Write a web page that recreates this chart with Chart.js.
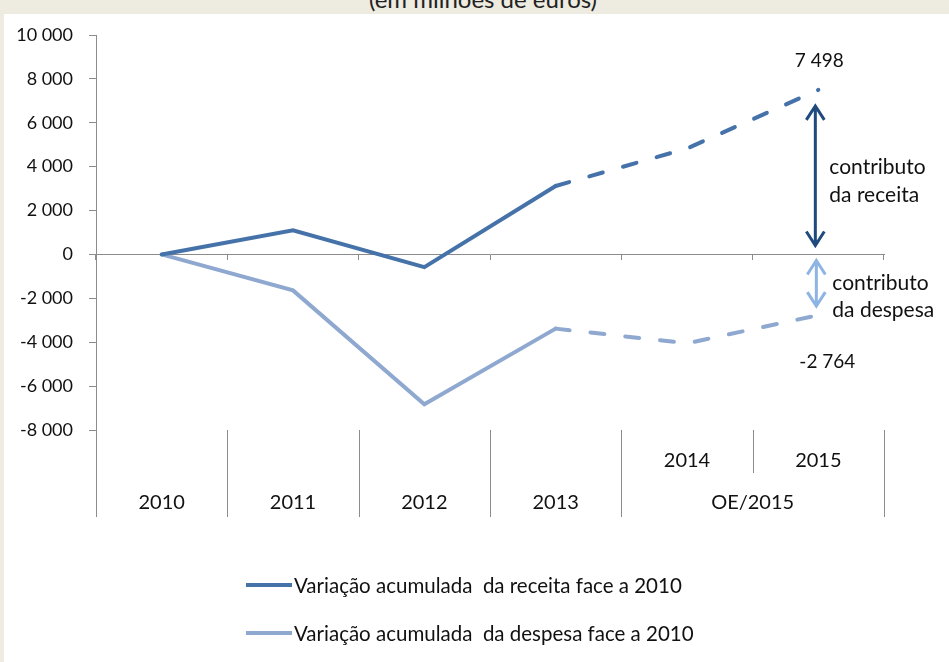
<!DOCTYPE html>
<html>
<head>
<meta charset="utf-8">
<script src="https://cdn.jsdelivr.net/npm/chart.js@4"></script>
<style>
  html, body { margin: 0; padding: 0; }
  body { width: 949px; height: 662px; background: #eeebe1; position: relative; overflow: hidden; font-family: Lato, sans-serif; }
  #panel { position: absolute; left: 4px; top: 14px; right: 0; bottom: 0; background: #fff; }
  #title { position: absolute; left: 0; width: 966px; top: -13px; line-height: 24px; text-align: center; font-size: 24px; color: #222; }
  #chart-wrap { position: absolute; left: 0; top: 0; width: 949px; height: 662px; }
  #legend { position: absolute; left: 246px; top: 570px; font-size: 20.5px; color: #111; }
  .leg-item { display: flex; align-items: center; height: 30px; margin-bottom: 18px; }
  .leg-line { width: 46px; height: 4px; margin-right: 2px; }
</style>
</head>
<body>
<div id="panel"></div>
<div id="title">(em milhões de euros)</div>
<div id="chart-wrap"><canvas id="chart" width="949" height="662"></canvas></div>
<div id="legend"></div>
<script>
// Data
const years = ['2010', '2011', '2012', '2013', '2014', '2015'];
const groupLabels = ['2010', '2011', '2012', '2013', 'OE/2015'];
const groupSpans = [1, 1, 1, 1, 2];
const receita = [0, 1100, -580, 3120, 4830, 7498];
const despesa = [0, -1640, -6830, -3380, -4050, -2764];
const yTicks = [-8000, -6000, -4000, -2000, 0, 2000, 4000, 6000, 8000, 10000];
const firstForecast = 3; // dashed from 2013 onwards

const receitaLabel = 'Variação acumulada  da receita face a 2010';
const despesaLabel = 'Variação acumulada  da despesa face a 2010';
const receitaColor = '#4672aa';
const despesaColor = '#8fa8d0';
const axisColor = '#8c8c8c';
const fontFamily = 'Lato, sans-serif';

function fmt(v) {
    const s = Math.abs(v).toString().replace(/\B(?=(\d{3})+(?!\d))/g, ' ');
    return (v < 0 ? '-' : '') + s;
}

const dashAfter = ctx => ctx.p0DataIndex >= firstForecast ? [14, 21] : undefined;

// Arrows, value labels and the two-level category axis
const extras = {
    id: 'extras',
    afterDraw(chart) {
        const ctx = chart.ctx;
        const x = chart.scales.x;
        const y = chart.scales.y;
        const area = chart.chartArea;
        const last = years.length - 1;
        const px = x.getPixelForValue(last);

        // category area below plot
        const bottom = area.bottom + 87;
        const mid = area.bottom + 43;
        const half = (x.getPixelForValue(1) - x.getPixelForValue(0)) / 2;
        ctx.save();
        ctx.strokeStyle = axisColor;
        ctx.lineWidth = 1;
        ctx.beginPath();
        ctx.moveTo(area.left + 0.5, area.bottom);
        ctx.lineTo(area.left + 0.5, bottom);
        let idx = 0;
        groupSpans.forEach(span => {
            idx += span;
            const bx = Math.round(x.getPixelForValue(idx - 1) + half) + 0.5;
            ctx.moveTo(bx, area.bottom);
            ctx.lineTo(bx, bottom);
        });
        // inner separator between 2014 and 2015
        const ix = Math.round(x.getPixelForValue(4) + half) + 0.5;
        ctx.moveTo(ix, area.bottom);
        ctx.lineTo(ix, mid);
        ctx.stroke();

        ctx.fillStyle = '#111';
        ctx.font = '20px ' + fontFamily;
        ctx.textAlign = 'center';
        ctx.textBaseline = 'middle';
        ctx.fillText(years[4], x.getPixelForValue(4), area.bottom + 31);
        ctx.fillText(years[5], x.getPixelForValue(5), area.bottom + 31);
        idx = 0;
        groupSpans.forEach((span, i) => {
            const cx = (x.getPixelForValue(idx) + x.getPixelForValue(idx + span - 1)) / 2;
            ctx.fillText(groupLabels[i], cx, area.bottom + 73);
            idx += span;
        });

        // value labels
        ctx.font = '19px ' + fontFamily;
        ctx.fillText(fmt(receita[last]), px + 1, y.getPixelForValue(receita[last]) - 29);
        ctx.fillText(fmt(despesa[last]), px + 9, y.getPixelForValue(despesa[last]) + 47);

        // arrows
        function arrow(ax, y1, y2, color, w) {
            ctx.strokeStyle = color;
            ctx.lineWidth = w;
            ctx.lineCap = 'butt';
            ctx.lineJoin = 'miter';
            ctx.beginPath();
            ctx.moveTo(ax, y1 + 1);
            ctx.lineTo(ax, y2 - 1);
            ctx.moveTo(ax - 9, y1 + 15);
            ctx.lineTo(ax, y1 + 1);
            ctx.lineTo(ax + 9, y1 + 15);
            ctx.moveTo(ax - 9, y2 - 15);
            ctx.lineTo(ax, y2 - 1);
            ctx.lineTo(ax + 9, y2 - 15);
            ctx.stroke();
        }
        const y0 = y.getPixelForValue(0);
        arrow(px - 3, y.getPixelForValue(receita[last]) + 15, y0 - 8, '#1f4a7e', 3);
        arrow(px - 2, y0 + 5, y.getPixelForValue(despesa[last]) - 8, '#8db4e2', 3);

        ctx.fillStyle = '#111';
        ctx.font = '21px ' + fontFamily;
        ctx.textAlign = 'left';
        ctx.fillText('contributo', px + 11, y0 - 87);
        ctx.fillText('da receita', px + 11, y0 - 59);
        ctx.fillText('contributo', px + 14, y0 + 29);
        ctx.fillText('da despesa', px + 14, y0 + 56);
        ctx.restore();
    }
};

const chart = new Chart(document.getElementById('chart'), {
    type: 'line',
    data: {
        labels: years,
        datasets: [{
            label: receitaLabel,
            data: receita,
            borderColor: receitaColor,
            backgroundColor: receitaColor,
            borderWidth: 4,
            pointRadius: 0,
            borderCapStyle: 'round',
            segment: { borderDash: dashAfter }
        }, {
            label: despesaLabel,
            data: despesa,
            borderColor: despesaColor,
            backgroundColor: despesaColor,
            borderWidth: 4,
            pointRadius: 0,
            borderCapStyle: 'round',
            segment: { borderDash: dashAfter }
        }]
    },
    options: {
        responsive: false,
        animation: false,
        layout: { padding: { top: 35, right: 65, bottom: 232, left: 0 } },
        plugins: {
            legend: { display: false },
            tooltip: { enabled: false }
        },
        scales: {
            x: {
                type: 'category',
                offset: true,
                position: { y: 0 },
                border: { color: axisColor, width: 1 },
                grid: { drawOnChartArea: false, offset: true, tickLength: 5, color: axisColor },
                ticks: { display: false }
            },
            y: {
                min: yTicks[0],
                max: yTicks[yTicks.length - 1],
                afterFit: s => { s.width = 96; },
                afterBuildTicks: s => { s.ticks = yTicks.map(v => ({ value: v })); },
                border: { color: axisColor, width: 1 },
                grid: { drawOnChartArea: false, tickLength: 7, color: axisColor },
                ticks: {
                    padding: 16,
                    color: '#111',
                    font: { family: fontFamily, size: 18 },
                    callback: v => fmt(v)
                }
            }
        }
    },
    plugins: [extras]
});

// legend
const legend = document.getElementById('legend');
chart.data.datasets.forEach(ds => {
    const item = document.createElement('div');
    item.className = 'leg-item';
    item.innerHTML = '<span class="leg-line" style="background:' + ds.borderColor + '"></span><span style="white-space:pre">' + ds.label + '</span>';
    legend.appendChild(item);
});
</script>
</body>
</html>
